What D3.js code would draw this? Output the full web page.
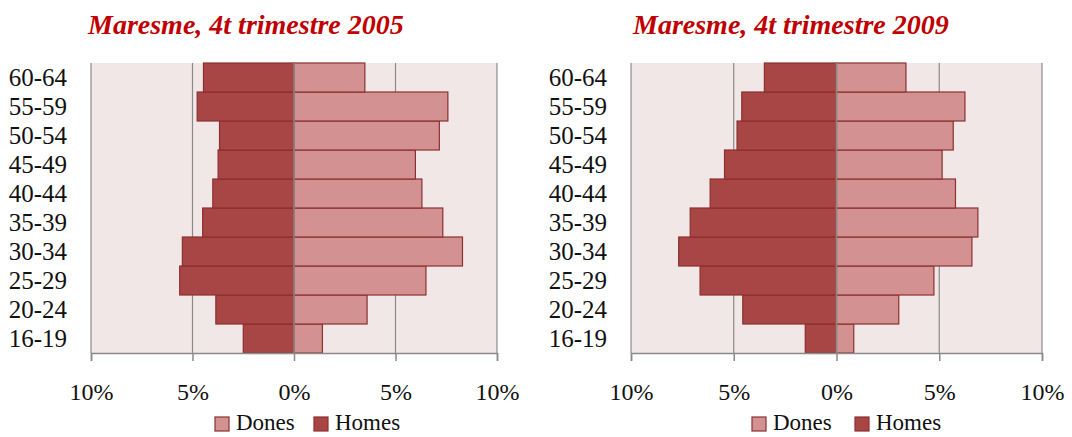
<!DOCTYPE html>
<html>
<head>
<meta charset="utf-8">
<script src="https://cdn.jsdelivr.net/npm/d3@7"></script>
<style>
  body { margin: 0; background: #fff; }
  svg text { font-family: "Liberation Serif", "DejaVu Serif", serif; }
</style>
</head>
<body>
<svg id="chart" width="1072" height="437"></svg>
<script>
// age groups, youngest first
const ages = ["16-19", "20-24", "25-29", "30-34", "35-39", "40-44", "45-49", "50-54", "55-59", "60-64"];

// % of population, 4t trimestre 2005
const homes2005 = [2.5, 3.85, 5.63, 5.5, 4.5, 4.0, 3.74, 3.67, 4.77, 4.46];
const dones2005 = [1.4, 3.6, 6.5, 8.3, 7.33, 6.3, 5.98, 7.16, 7.58, 3.49];

// % of population, 4t trimestre 2009
const homes2009 = [1.52, 4.56, 6.64, 7.68, 7.12, 6.15, 5.45, 4.84, 4.61, 3.51];
const dones2009 = [0.84, 3.03, 4.74, 6.59, 6.88, 5.79, 5.14, 5.68, 6.25, 3.38];

const tickValues = [-10, -5, 0, 5, 10];
const titles = ["Maresme, 4t trimestre 2005", "Maresme, 4t trimestre 2009"];

const colDones = "#d39191";
const colHomes = "#a84545";
const colStroke = "#8c3030";

const svg = d3.select("#chart");

function drawPyramid(opts, title, homes, dones) {
    const plot = { x0: opts.x0, x1: opts.x1, y0: 63, y1: 353 };
    const g = svg.append("g");

    const x = d3.scaleLinear().domain([-10, 10]).range([plot.x0, plot.x1]);
    const y = d3.scaleBand().domain(ages.slice().reverse()).range([plot.y0, plot.y1]).padding(0);

    g.append("rect")
        .attr("x", plot.x0).attr("y", plot.y0)
        .attr("width", plot.x1 - plot.x0).attr("height", plot.y1 - plot.y0)
        .attr("fill", "#f2e7e7");

    // gridlines
    g.selectAll("line.grid").data(tickValues).enter().append("line")
        .attr("class", "grid")
        .attr("x1", d => x(d)).attr("x2", d => x(d))
        .attr("y1", plot.y0).attr("y2", plot.y1)
        .attr("stroke", "#8a8a8a").attr("stroke-width", 1.2);

    const rows = ages.map((a, i) => ({ age: a, h: homes[i], d: dones[i] }));

    g.selectAll("rect.homes").data(rows).enter().append("rect")
        .attr("class", "homes")
        .attr("x", d => x(-d.h)).attr("y", d => y(d.age))
        .attr("width", d => x(0) - x(-d.h)).attr("height", y.bandwidth())
        .attr("fill", colHomes).attr("stroke", colStroke).attr("stroke-width", 1.2);

    g.selectAll("rect.dones").data(rows).enter().append("rect")
        .attr("class", "dones")
        .attr("x", x(0)).attr("y", d => y(d.age))
        .attr("width", d => x(d.d) - x(0)).attr("height", y.bandwidth())
        .attr("fill", colDones).attr("stroke", colStroke).attr("stroke-width", 1.2);

    // zero line on top
    g.append("line")
        .attr("x1", x(0)).attr("x2", x(0))
        .attr("y1", plot.y0).attr("y2", plot.y1)
        .attr("stroke", "#8a8a8a").attr("stroke-width", 1.5);

    // x axis
    const xAxis = d3.axisBottom(x).tickValues(tickValues).tickSize(8).tickPadding(22)
        .tickFormat(d => Math.abs(d) + "%");
    const ax = g.append("g").attr("transform", `translate(0,${plot.y1})`).call(xAxis);
    ax.select(".domain").attr("stroke", "#8a8a8a").attr("stroke-width", 1.5);
    ax.selectAll(".tick line").attr("stroke", "#8a8a8a").attr("stroke-width", 1.5);
    ax.selectAll(".tick text").attr("font-size", 24).attr("fill", "#111")
        .style("font-family", "'Liberation Serif', serif");

    // y labels
    g.selectAll("text.age").data(ages).enter().append("text")
        .attr("class", "age")
        .attr("x", plot.x0 - 24).attr("y", d => y(d) + y.bandwidth() / 2)
        .attr("dy", "0.35em").attr("text-anchor", "end")
        .attr("font-size", 25).attr("fill", "#111")
        .text(d => d);

    // title
    g.append("text")
        .attr("x", opts.titleX).attr("y", 34)
        .attr("font-size", 28).attr("font-weight", "bold").attr("font-style", "italic")
        .attr("fill", "#c00000")
        .text(title);

    // legend
    const leg = g.append("g").attr("transform", `translate(${opts.legX},417)`);
    const items = [["Dones", colDones, 0], ["Homes", colHomes, opts.legGap]];
    items.forEach(([label, col, off]) => {
        leg.append("rect").attr("x", off).attr("y", 0).attr("width", 14).attr("height", 14)
            .attr("fill", col).attr("stroke", colStroke).attr("stroke-width", 1.2);
        leg.append("text").attr("x", off + 21).attr("y", 13)
            .attr("font-size", 23).attr("fill", "#111").text(label);
    });
}

drawPyramid({ x0: 91, x1: 497, titleX: 88, legX: 215, legGap: 99 }, titles[0], homes2005, dones2005);
drawPyramid({ x0: 631, x1: 1042, titleX: 633, legX: 752, legGap: 103 }, titles[1], homes2009, dones2009);
</script>
</body>
</html>
